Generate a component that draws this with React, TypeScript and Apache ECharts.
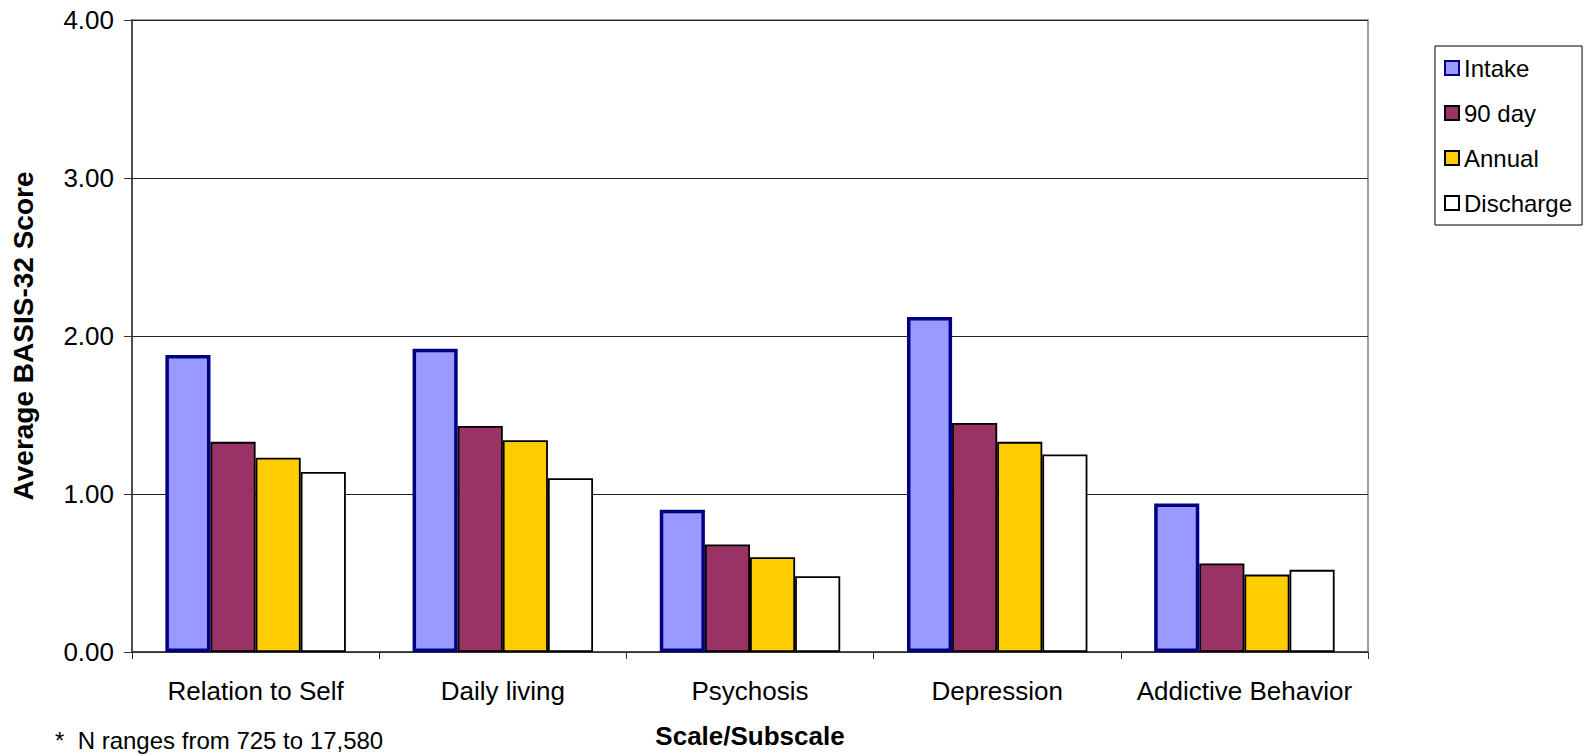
import React, { useEffect, useRef } from "react";
import * as echarts from "echarts";

const categories = ["Relation to Self", "Daily living", "Psychosis", "Depression", "Addictive Behavior"];
const seriesNames = ["Intake", "90 day", "Annual", "Discharge"];
const intake = [1.88, 1.92, 0.9, 2.12, 0.94];
const day90 = [1.33, 1.43, 0.68, 1.45, 0.56];
const annual = [1.23, 1.34, 0.6, 1.33, 0.49];
const discharge = [1.14, 1.1, 0.48, 1.25, 0.52];
const yTicks = [0, 1, 2, 3, 4];
const footnote = "*  N ranges from 725 to 17,580";

const FONT = "'Liberation Sans', Arial, sans-serif";

export default function App() {
  const ref = useRef<HTMLDivElement>(null);

  useEffect(() => {
    document.body.style.margin = "0";
    if (!ref.current) return;
    const chart = echarts.init(ref.current, undefined, { renderer: "svg" });

    const values = [intake, day90, annual, discharge];
    const fills = ["#9999FF", "#993366", "#FFCC00", "#FFFFFF"];
    const borders = ["#000080", "#000000", "#000000", "#000000"];
    const borderWidths = [3.5, 1.8, 1.8, 1.8];

    chart.setOption({
      animation: false,
      backgroundColor: "#ffffff",
      textStyle: { fontFamily: FONT, color: "#000" },
      grid: {
        left: 132,
        right: 223,
        top: 20,
        bottom: 101,
        containLabel: false,
        show: true,
        borderColor: "#808080",
        borderWidth: 1.5,
        backgroundColor: "transparent",
      },
      legend: {
        orient: "vertical",
        left: 1435,
        top: 46,
        width: 151,
        padding: [10, 10, 10, 9],
        itemWidth: 14,
        itemHeight: 14,
        itemGap: 21,
        itemTextGap: 9,
        borderColor: "#000",
        borderWidth: 1,
        icon: "rect",
        textStyle: { fontFamily: FONT, fontSize: 24, color: "#000" },
        data: seriesNames,
      },
      xAxis: {
        type: "category",
        data: categories,
        name: "Scale/Subscale",
        nameLocation: "middle",
        nameGap: 71,
        nameTextStyle: { fontFamily: FONT, fontSize: 26, fontWeight: "bold", color: "#000" },
        axisLine: { lineStyle: { color: "#333", width: 1.5 } },
        axisTick: { show: true, alignWithLabel: false, length: 7, lineStyle: { color: "#333" } },
        axisLabel: { interval: 0, margin: 26, fontFamily: FONT, fontSize: 26, color: "#000" },
        splitLine: { show: false },
      },
      yAxis: {
        type: "value",
        min: yTicks[0],
        max: yTicks[yTicks.length - 1],
        interval: 1,
        name: "Average BASIS-32 Score",
        nameLocation: "middle",
        nameRotate: 90,
        nameGap: 95,
        nameTextStyle: { fontFamily: FONT, fontSize: 28, fontWeight: "bold", color: "#000" },
        axisLine: { show: true, lineStyle: { color: "#333", width: 1.5 } },
        axisTick: { show: true, inside: false, length: 8, lineStyle: { color: "#333" } },
        axisLabel: {
          margin: 18,
          fontFamily: FONT,
          fontSize: 26,
          color: "#000",
          formatter: (v: number) => v.toFixed(2),
        },
        splitLine: { show: true, lineStyle: { color: "#222", width: 1 } },
      },
      series: seriesNames.map((name, i) => ({
        name,
        type: "bar",
        data: values[i],
        barGap: "0%",
        barCategoryGap: "27%",
        itemStyle: {
          color: fills[i],
          borderColor: borders[i],
          borderWidth: borderWidths[i],
        },
      })),
      graphic: [
        {
          type: "text",
          left: 55,
          top: 728,
          style: { text: footnote, font: `24px ${FONT}`, fill: "#000" },
        },
      ],
    });

    return () => chart.dispose();
  }, []);

  return <div ref={ref} style={{ width: 1591, height: 754 }} />;
}
